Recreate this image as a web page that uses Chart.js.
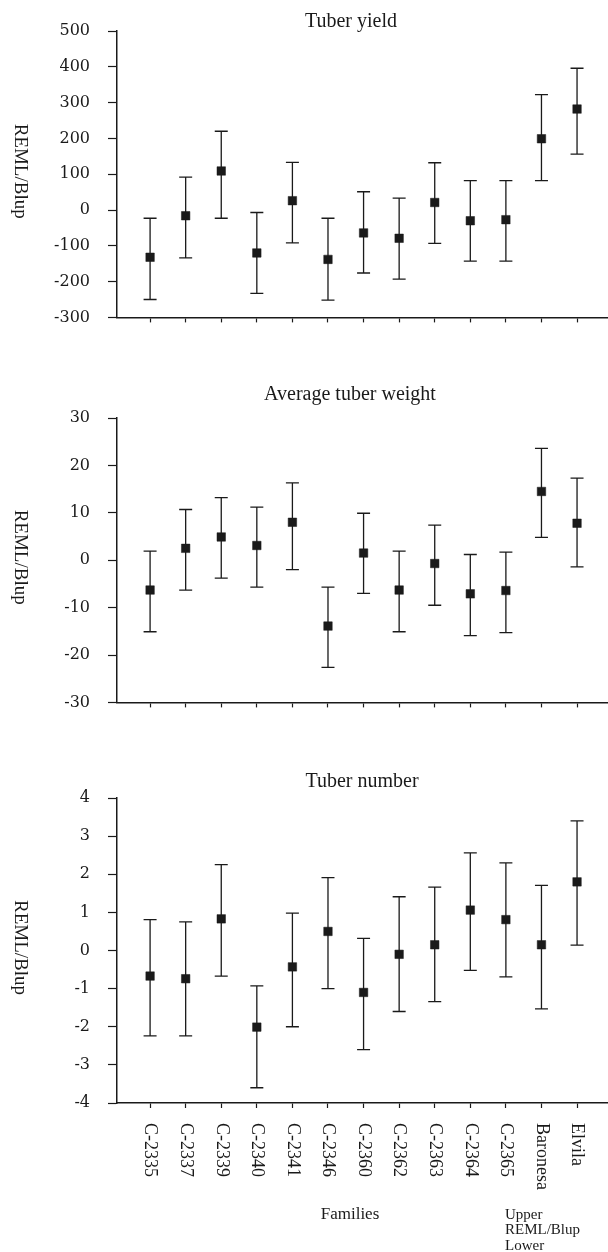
<!DOCTYPE html>
<html>
<head>
<meta charset="utf-8">
<script src="https://cdn.jsdelivr.net/npm/chart.js@4.4.1/dist/chart.umd.min.js"></script>
<style>
  html, body { margin: 0; padding: 0; background: #ffffff; }
  #wrap { position: relative; width: 608px; height: 1252px; background: #ffffff; }
  canvas { position: absolute; left: 0; }
</style>
</head>
<body>
<div id="wrap">
  <canvas id="c1" width="608" height="345" style="top:0px"></canvas>
  <canvas id="c2" width="608" height="370" style="top:360px"></canvas>
  <canvas id="c3" width="608" height="512" style="top:740px"></canvas>
</div>
<script>
// ---- Data ----
const families = ['C-2335','C-2337','C-2339','C-2340','C-2341','C-2346','C-2360','C-2362','C-2363','C-2364','C-2365','Baronesa','Elvila'];

const yieldBlup  = [-132, -16, 109, -120, 26, -138, -64, -79, 21, -30, -27, 199, 282];
const yieldUpper = [-23, 92, 220, -7, 133, -23, 51, 33, 132, 82, 82, 322, 396];
const yieldLower = [-250, -134, -23, -233, -92, -252, -176, -193, -93, -143, -143, 82, 156];

const weightBlup  = [-6.3, 2.5, 4.9, 3.1, 8.0, -13.9, 1.5, -6.3, -0.7, -7.1, -6.4, 14.5, 7.8];
const weightUpper = [1.9, 10.7, 13.2, 11.2, 16.3, -5.7, 9.9, 1.9, 7.4, 1.2, 1.7, 23.6, 17.3];
const weightLower = [-15.1, -6.3, -3.8, -5.7, -2.0, -22.6, -7.0, -15.1, -9.5, -15.9, -15.3, 4.8, -1.4];

const numberBlup  = [-0.67, -0.74, 0.83, -2.01, -0.43, 0.50, -1.10, -0.10, 0.15, 1.06, 0.81, 0.15, 1.80];
const numberUpper = [0.81, 0.75, 2.25, -0.93, 0.98, 1.91, 0.32, 1.41, 1.66, 2.56, 2.30, 1.71, 3.40];
const numberLower = [-2.24, -2.24, -0.67, -3.6, -2.0, -1.0, -2.60, -1.60, -1.34, -0.52, -0.69, -1.53, 0.14];

const yieldTicks  = {min: -300, max: 500, step: 100};
const weightTicks = {min: -30, max: 30, step: 10};
const numberTicks = {min: -4, max: 4, step: 1};

const yTitle = 'REML/Blup';
const xTitle = 'Families';
const legendLines = ['Upper', 'REML/Blup', 'Lower'];

// ---- Styling ----
const INK = '#1a1a1a';
const SERIF = '"Liberation Serif", "Times New Roman", serif';
const TICKFONT = '"DejaVu Serif", serif';

function errorBarPlugin(upper, lower) {
  return {
    id: 'errbars',
    beforeDatasetsDraw(chart) {
      const xs = chart.scales.x, ys = chart.scales.y, ctx = chart.ctx;
      ctx.save();
      ctx.strokeStyle = INK;
      ctx.lineWidth = 1.3;
      for (let i = 0; i < upper.length; i++) {
        const x = xs.getPixelForValue(i);
        const yu = ys.getPixelForValue(upper[i]);
        const yl = ys.getPixelForValue(lower[i]);
        ctx.beginPath();
        ctx.moveTo(x, yu); ctx.lineTo(x, yl);
        ctx.moveTo(x - 6.5, yu); ctx.lineTo(x + 6.5, yu);
        ctx.moveTo(x - 6.5, yl); ctx.lineTo(x + 6.5, yl);
        ctx.stroke();
      }
      ctx.restore();
    }
  };
}

function textPlugin(title, titleX, titleBaseline, extra) {
  return {
    id: 'texts',
    afterDraw(chart) {
      const ctx = chart.ctx, a = chart.chartArea;
      ctx.save();
      ctx.fillStyle = INK;
      // chart title
      ctx.font = '20px ' + SERIF;
      ctx.textAlign = 'center';
      ctx.textBaseline = 'alphabetic';
      ctx.fillText(title, titleX, titleBaseline);
      // y axis title (reads top to bottom)
      ctx.font = '19px ' + SERIF;
      ctx.translate(20, (a.top + a.bottom) / 2 - 3);
      ctx.rotate(Math.PI / 2);
      ctx.textAlign = 'center';
      ctx.textBaseline = 'middle';
      ctx.fillText(yTitle, 0, 0);
      ctx.restore();
      if (extra) extra(chart);
    }
  };
}

function bottomLabels(chart) {
  const ctx = chart.ctx, xs = chart.scales.x, a = chart.chartArea;
  ctx.save();
  ctx.fillStyle = INK;
  ctx.font = '18px ' + SERIF;
  families.forEach((lab, i) => {
    const x = xs.getPixelForValue(i);
    ctx.save();
    ctx.translate(x, a.bottom + 20);
    ctx.rotate(Math.PI / 2);
    ctx.textAlign = 'left';
    ctx.textBaseline = 'middle';
    ctx.fillText(lab, 0, 0);
    ctx.restore();
  });
  ctx.font = '17px ' + SERIF;
  ctx.textAlign = 'center';
  ctx.textBaseline = 'middle';
  ctx.fillText(xTitle, 350, a.bottom + 112);
  ctx.font = '15px ' + SERIF;
  ctx.textAlign = 'left';
  legendLines.forEach((t, k) => ctx.fillText(t, 505, a.bottom + 112 + k * 15.5));
  ctx.restore();
}

function makeChart(id, blup, upper, lower, ticks, title, titleX, titleBaseline, padTop, padBottom, extra) {
  return new Chart(document.getElementById(id), {
    type: 'scatter',
    data: {
      datasets: [{
        data: blup.map((v, i) => ({x: i, y: v})),
        pointStyle: 'rect',
        pointRadius: 6,
        pointHoverRadius: 6,
        backgroundColor: INK,
        borderColor: INK,
        borderWidth: 0.5,
        showLine: false
      }]
    },
    options: {
      responsive: false,
      animation: false,
      devicePixelRatio: 1,
      layout: { autoPadding: false, padding: { top: padTop, bottom: padBottom, left: 0, right: 0 } },
      plugins: { legend: { display: false }, tooltip: { enabled: false }, title: { display: false } },
      scales: {
        x: {
          type: 'linear',
          min: -0.93,
          max: 12.87,
          afterBuildTicks: s => { s.ticks = families.map((_, i) => ({value: i})); },
          afterFit: s => { s.height = 8; },
          ticks: { display: false },
          grid: { drawOnChartArea: false, drawTicks: true, tickLength: 5, color: INK, tickWidth: 1.2 },
          border: { display: true, color: INK, width: 1.5 }
        },
        y: {
          min: ticks.min,
          max: ticks.max,
          afterFit: s => { s.width = 117; },
          ticks: { stepSize: ticks.step, color: INK, padding: 18, font: { family: TICKFONT, size: 16 } },
          grid: { drawOnChartArea: false, drawTicks: true, tickLength: 9, color: INK, tickWidth: 1.2 },
          border: { display: true, color: INK, width: 1.5 }
        }
      }
    },
    plugins: [errorBarPlugin(upper, lower), textPlugin(title, titleX, titleBaseline, extra)]
  });
}

makeChart('c1', yieldBlup, yieldUpper, yieldLower, yieldTicks, 'Tuber yield', 351, 27, 31, 0, null);
makeChart('c2', weightBlup, weightUpper, weightLower, weightTicks, 'Average tuber weight', 350, 40, 58, 0, null);
makeChart('c3', numberBlup, numberUpper, numberLower, numberTicks, 'Tuber number', 362, 47, 58, 141, bottomLabels);
</script>
</body>
</html>
